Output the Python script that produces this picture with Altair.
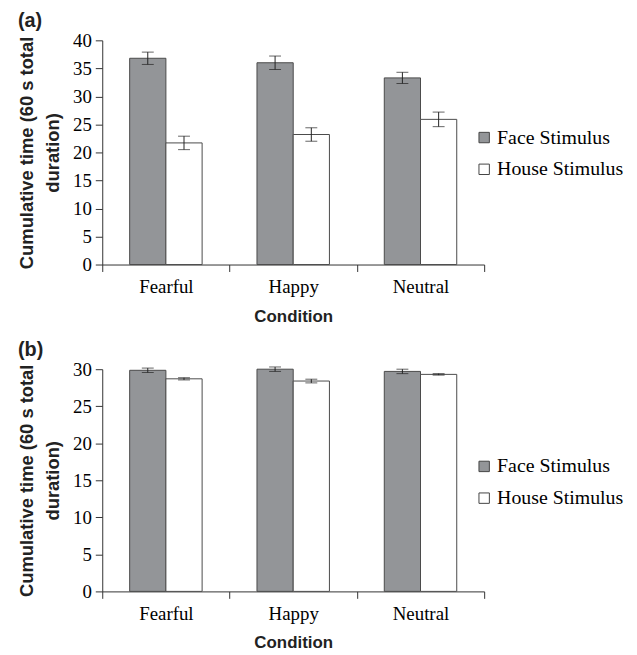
import altair as alt
import pandas as pd

conditions = ["Fearful", "Happy", "Neutral"]
stimuli = ["Face Stimulus", "House Stimulus"]

a_face = [36.8, 36.0, 33.3]
a_face_err = [1.1, 1.2, 1.0]
a_house = [21.7, 23.2, 25.9]
a_house_err = [1.2, 1.2, 1.3]

b_face = [29.85, 30.0, 29.7]
b_face_err = [0.3, 0.3, 0.3]
b_house = [28.7, 28.4, 29.3]
b_house_err = [0.15, 0.25, 0.1]

y_title = ["Cumulative time (60 s total", "duration)"]


def make_df(face, face_err, house, house_err):
    rows = []
    for i, c in enumerate(conditions):
        rows.append({"condition": c, "stimulus": stimuli[0], "value": face[i],
                     "lo": face[i] - face_err[i], "hi": face[i] + face_err[i]})
        rows.append({"condition": c, "stimulus": stimuli[1], "value": house[i],
                     "lo": house[i] - house_err[i], "hi": house[i] + house_err[i]})
    return pd.DataFrame(rows)


def panel(df, ymax, height, label):
    x_enc = alt.X(
        "condition:N", sort=conditions, title="Condition",
        scale=alt.Scale(paddingInner=0, paddingOuter=0),
        axis=alt.Axis(tickBand="extent", tickSize=7, labelAngle=0,
                      labelFont="Liberation Serif", labelFontSize=19,
                      labelColor="black", labelPadding=6,
                      domainColor="#333", tickColor="#333", grid=False,
                      titleFont="Liberation Sans", titleFontSize=17,
                      titleFontWeight="bold", titleColor="#222", titlePadding=12),
    )
    xo_enc = alt.XOffset("stimulus:N", sort=stimuli,
                         scale=alt.Scale(paddingInner=0, paddingOuter=0.757))
    y_scale = alt.Scale(domain=[0, ymax], nice=False)
    y_axis = alt.Axis(values=list(range(0, ymax + 1, 5)), tickSize=7,
                      labelFont="Liberation Serif", labelFontSize=19,
                      labelColor="black", labelPadding=4,
                      domainColor="#333", tickColor="#333", grid=False,
                      title=y_title, titleFont="Liberation Sans",
                      titleFontSize=18.5, titleFontWeight="bold",
                      titleColor="#222", titleLineHeight=26,
                      titlePadding=10)
    base = alt.Chart(df).encode(x=x_enc, xOffset=xo_enc)

    bars = base.mark_bar(stroke="#4a4a4a", strokeWidth=1).encode(
        y=alt.Y("value:Q", scale=y_scale, axis=y_axis),
        fill=alt.Fill("stimulus:N", sort=stimuli,
                      scale=alt.Scale(domain=stimuli, range=["#939598", "#ffffff"]),
                      legend=alt.Legend(orient="none", legendX=375, legendY=88,
                                        title=None, symbolType="square",
                                        symbolSize=110, symbolStrokeColor="#444",
                                        symbolStrokeWidth=1,
                                        labelFont="Liberation Serif",
                                        labelFontSize=20, labelColor="black",
                                        labelOffset=3, rowPadding=12)),
    )
    rules = base.mark_rule(color="#222", strokeWidth=1).encode(
        y=alt.Y("lo:Q", scale=y_scale, axis=y_axis), y2="hi:Q")
    cap_lo = base.mark_tick(color="#222", size=12, thickness=1).encode(
        y=alt.Y("lo:Q", scale=y_scale, axis=y_axis))
    cap_hi = base.mark_tick(color="#222", size=12, thickness=1).encode(
        y=alt.Y("hi:Q", scale=y_scale, axis=y_axis))

    return alt.layer(bars, rules, cap_lo, cap_hi).properties(
        width=385, height=height,
        title=alt.TitleParams(label, anchor="start", frame="bounds",
                              font="Liberation Sans", fontSize=20,
                              fontWeight="bold", color="#222", offset=0),
    )


top = panel(make_df(a_face, a_face_err, a_house, a_house_err), 40, 226, "(a)")
bottom = panel(make_df(b_face, b_face_err, b_house, b_house_err), 30, 224, "(b)")

chart = alt.vconcat(top, bottom, spacing=16.5).resolve_scale(
    fill="independent", y="independent"
).resolve_legend(fill="independent").properties(
    padding={"left": 9, "top": 1, "right": 5, "bottom": 0}
).configure_view(stroke=None)

chart.save("out.html", embed_options={"renderer": "svg", "actions": False})
